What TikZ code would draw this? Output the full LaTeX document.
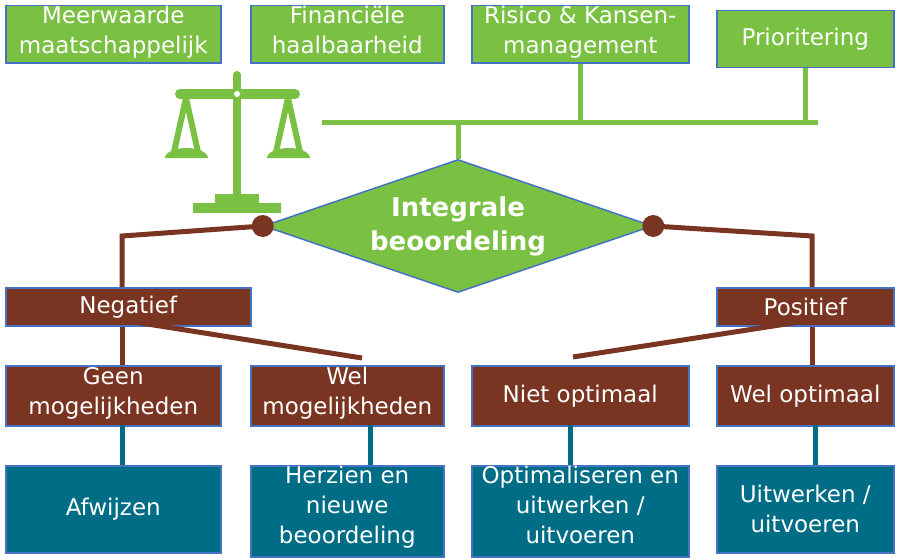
\documentclass[tikz,border=0pt]{standalone}
\usepackage{fontspec}
\setmainfont{DejaVu Sans}
\usetikzlibrary{shapes.geometric}
\definecolor{gr}{HTML}{7AC143}
\definecolor{br}{HTML}{7A3522}
\definecolor{tl}{HTML}{006D86}
\definecolor{bl}{HTML}{4472C4}
\begin{document}
\begin{tikzpicture}[x=1pt,y=-1pt,
 box/.style={draw=bl,line width=1.5pt,minimum height=#1,inner sep=0pt,align=center,text=white,anchor=north west,font=\fontsize{23}{30}\selectfont},
 gbox/.style={box=57pt,fill=gr},
 bbox/.style={box=#1,fill=br},
 tbox/.style={box=87pt,fill=tl},
 gl/.style={gr,line width=5pt},
 bln/.style={br,line width=5pt},
 tln/.style={tl,line width=5pt}]
\useasboundingbox (0,0) rectangle (907,559);
\coordinate (h1) at (322,123); \coordinate (h2) at (818,123);
\draw[gl] (h1) -- (h2);
\node[gbox,minimum width=215pt,text depth=10pt] (m) at (5,5) {Meerwaarde\\maatschappelijk};
\node[gbox,minimum width=193pt,text depth=10pt] (f) at (250,5) {Financiële\\haalbaarheid};
\node[gbox,minimum width=217pt,text depth=10pt] (r) at (471,5) {Risico \& Kansen-\\management};
\node[gbox,minimum width=177pt] (p) at (716,10) {Prioritering};
\draw[gl] (r.south) -- (r.south |- h1);
\draw[gl] (p.south) -- (p.south |- h1);
\node[diamond,fill=gr,draw=bl,line width=1.5pt,minimum width=389pt,minimum height=133pt,inner sep=0pt,text=white,align=center,font=\bfseries\fontsize{26}{34}\selectfont,aspect=2.9] (d) at (458,226) {Integrale\\beoordeling};
\draw[gl] (d.north) -- (d.north |- h1);
\begin{scope}[gr]
\draw[line width=8pt,line cap=round] (237,75) -- (237,200);
\draw[line width=10pt,line cap=round] (180,94) -- (295,94);
\fill[white] (237,94) circle (3pt);
\draw[line width=6pt] (186,98) -- (174,152) (186,98) -- (198,152);
\draw[line width=6pt] (288,98) -- (276,152) (288,98) -- (300,152);
\fill (165,158) -- (208,158) arc[start angle=0,end angle=-180,x radius=21.5pt,y radius=-10pt] -- cycle;
\fill (267,158) -- (310,158) arc[start angle=0,end angle=-180,x radius=21.5pt,y radius=-10pt] -- cycle;
\fill (215,194) rectangle (259,204);
\fill (193,203) rectangle (281,213);
\end{scope}
\node[bbox=38pt,minimum width=245pt] (neg) at (5,287) {Negatief};
\node[bbox=38pt,minimum width=177pt] (pos) at (716,287) {Positief};
\coordinate (lc) at (122,236); \coordinate (rc) at (812,236);
\draw[bln] (d.west) -- (lc) -- (lc |- neg.north);
\draw[bln] (d.east) -- (rc) -- (rc |- pos.north);
\fill[br] (d.west) circle (11pt) (d.east) circle (11pt);
\node[bbox=60pt,minimum width=215pt,text depth=10pt] (g) at (5,365) {Geen\\mogelijkheden};
\node[bbox=60pt,minimum width=193pt,text depth=10pt] (w) at (250,365) {Wel\\mogelijkheden};
\node[bbox=60pt,minimum width=217pt] (n) at (471,365) {Niet optimaal};
\node[bbox=60pt,minimum width=177pt] (o) at (716,365) {Wel optimaal};
\coordinate (wt) at (362,358); \coordinate (nt) at (573,357);
\draw[bln] (neg.south -| lc) -- (g.north -| lc);
\draw[bln] (122,320) -- (wt);
\draw[bln] (pos.south -| rc) -- (o.north -| rc);
\draw[bln] (812,320) -- (nt);
\node[tbox,minimum width=215pt] (a) at (5,465) {Afwijzen};
\node[tbox,minimum width=193pt,text depth=14pt] (h) at (250,465) {Herzien en\\nieuwe\\beoordeling};
\node[tbox,minimum width=217pt,text depth=14pt] (op) at (471,465) {Optimaliseren en\\uitwerken /\\uitvoeren};
\node[tbox,minimum width=177pt] (u) at (716,465) {Uitwerken /\\uitvoeren};
\draw[tln] (122,425) -- (122,465);
\draw[tln] (370,425) -- (370,465);
\draw[tln] (570,425) -- (570,465);
\draw[tln] (815,425) -- (815,465);
\end{tikzpicture}
\end{document}
